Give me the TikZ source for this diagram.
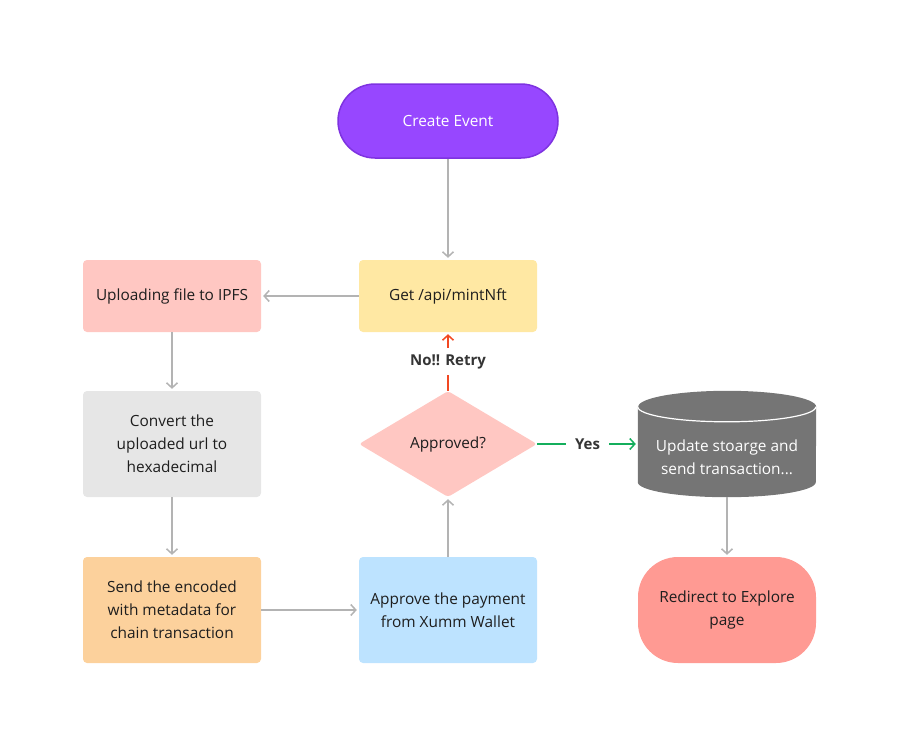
\documentclass[tikz,border=0pt]{standalone}
\usepackage{fontspec}
\setmainfont{Open Sans}
\usepackage{tikz}
\usetikzlibrary{shapes,arrows.meta}
\definecolor{textdark}{HTML}{1E1E1E}
\definecolor{startpurple}{HTML}{9747FF}
\definecolor{startedge}{HTML}{7E33E0}
\definecolor{mintyellow}{HTML}{FFE8A3}
\definecolor{ipfspink}{HTML}{FFC7C2}
\definecolor{hexgray}{HTML}{E6E6E6}
\definecolor{metaorange}{HTML}{FCD19C}
\definecolor{payblue}{HTML}{BDE3FF}
\definecolor{dbgray}{HTML}{757575}
\definecolor{redirred}{HTML}{FF9A93}
\definecolor{arrowgray}{HTML}{B3B3B3}
\definecolor{retryred}{HTML}{F24822}
\definecolor{yesgreen}{HTML}{14AE5C}
\tikzstyle{pill} = [rectangle, rounded corners=37pt, minimum width=220pt, minimum height=74pt, text centered, fill=startpurple, draw=startedge, line width=1.5pt, text=white]
\tikzstyle{box} = [rectangle, rounded corners=4pt, minimum width=178pt, minimum height=72pt, align=center, text=textdark]
\tikzstyle{tallbox} = [box, minimum height=106pt]
\tikzstyle{decision} = [diamond, aspect=1.67, minimum width=178pt, minimum height=106pt, inner sep=0pt, rounded corners=3pt, fill=ipfspink, text=textdark]
\tikzstyle{dbbox} = [rectangle, minimum width=178pt, minimum height=106pt]
\tikzstyle{endbox} = [rectangle, rounded corners=40pt, minimum width=178pt, minimum height=106pt, align=center, fill=redirred, text=textdark]
\tikzstyle{tag} = [fill=white, inner xsep=9pt, inner ysep=6pt, font=\fontsize{15pt}{23pt}\selectfont\bfseries, text=textdark!90]
\tikzstyle{arrow} = [line width=1.5pt, draw=arrowgray, -{Straight Barb[length=5pt,width=11pt]}, shorten >=2pt]

\begin{document}
\begin{tikzpicture}[x=1pt, y=1pt, node distance=148pt, font=\fontsize{15.4pt}{23pt}\selectfont]
        \useasboundingbox (0,0) rectangle (900,-747);
        \node (start) [pill] at (448,-121) {Create Event};
        \node (mint) [box, fill=mintyellow, below of = start, node distance=175pt] {Get /api/mintNft};
        \node (ipfs) [box, fill=ipfspink, left of = mint, node distance=276pt] {Uploading file to IPFS};
        \node (hex) [tallbox, fill=hexgray, below of = ipfs] {Convert the\\uploaded url to\\hexadecimal};
        \node (meta) [tallbox, fill=metaorange, below of = hex, node distance=166pt] {Send the encoded\\with metadata for\\chain transaction};
        \node (dec) [decision, below of = mint] {Approved?};
        \node (pay) [tallbox, fill=payblue, below of = dec, node distance=166pt] {Approve the payment\\from Xumm Wallet};
        \node (db) [dbbox, right of = dec, node distance=279pt] {};
        % cylinder drawn on the db box
        \fill [dbgray] ([yshift=-16pt]db.north west) -- ([yshift=15pt]db.south west)
                arc [start angle=180, end angle=360, x radius=89pt, y radius=15pt]
                -- ([yshift=-16pt]db.north east)
                arc [start angle=0, end angle=180, x radius=89pt, y radius=16pt] -- cycle;
        \draw [white, line width=1.2pt] ([yshift=-16pt]db.north west)
                arc [start angle=180, end angle=360, x radius=89pt, y radius=15pt];
        \node (dbtext) [align=center, text=white] at ([yshift=-13pt]db.center) {Update stoarge and\\send transaction...};
        \node (redir) [endbox, below of = db, node distance=166pt] {Redirect to Explore\\page};
        \draw [arrow] (start) -- (mint);
        \draw [arrow] (mint) -- (ipfs);
        \draw [arrow] (ipfs) -- (hex);
        \draw [arrow] (hex) -- (meta);
        \draw [arrow] (meta) -- (pay);
        \draw [arrow] (pay) -- (dec);
        \draw [arrow, draw=retryred] (dec) -- node [tag] {No!! Retry} (mint);
        \draw [arrow, draw=yesgreen] (dec) -- node [tag] {Yes} (db);
        \draw [arrow] (db) -- (redir);
\end{tikzpicture}
\end{document}
